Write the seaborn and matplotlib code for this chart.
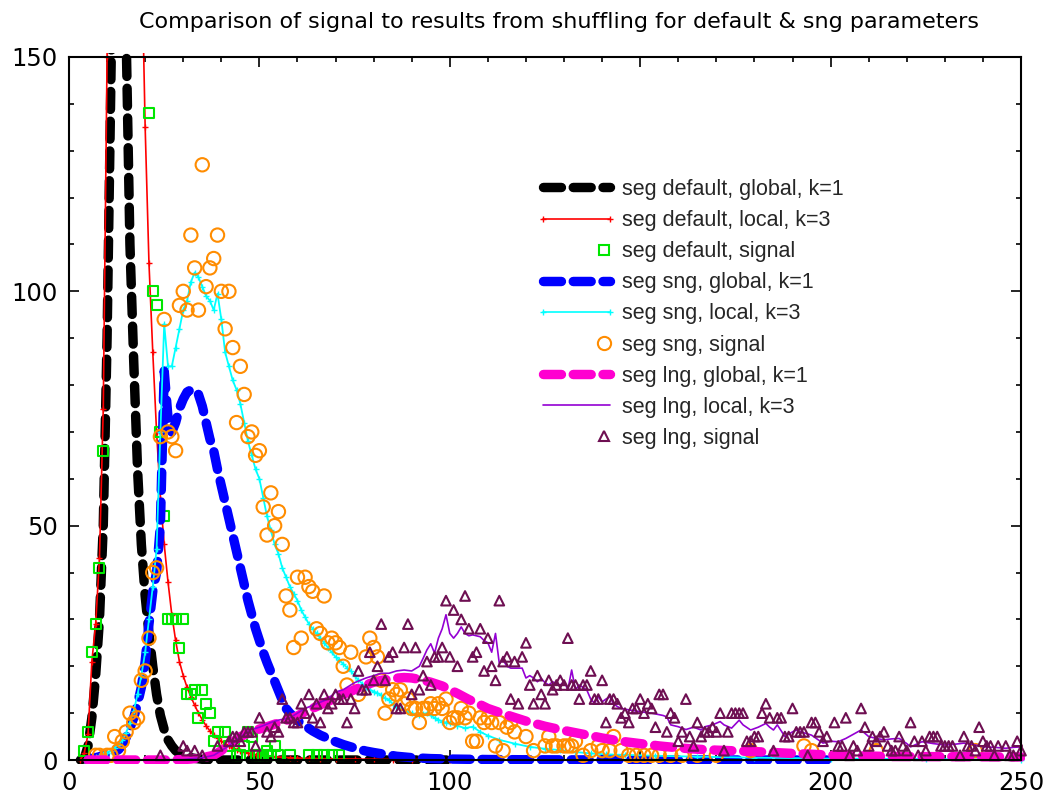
import matplotlib
matplotlib.use("Agg")
import matplotlib.pyplot as plt
import seaborn as sns
from matplotlib.lines import Line2D
from matplotlib.patches import Rectangle
from matplotlib.ticker import MultipleLocator
from matplotlib.legend_handler import HandlerBase, HandlerLine2D

# ---------------------------------------------------------------- data
title = "Comparison of signal to results from shuffling for default & sng parameters"

labels = [
    "seg default, global, k=1",
    "seg default, local, k=3",
    "seg default, signal",
    "seg sng, global, k=1",
    "seg sng, local, k=3",
    "seg sng, signal",
    "seg lng, global, k=1",
    "seg lng, local, k=3",
    "seg lng, signal",
]

default_global = [(3, 0), (4, 0.3), (5, 3), (6, 9), (7, 18), (8, 30), (9, 50), (10, 90),
                  (11, 145), (12, 200), (13, 230), (14, 210), (15, 155), (16, 110), (17, 85),
                  (18, 62), (19, 46), (20, 35), (21, 27), (22, 20), (23, 14), (24, 9.5),
                  (25, 6.5), (26, 4.3), (27, 3), (28, 2), (29, 1.4), (30, 1), (31, 0.7),
                  (32, 0.5), (33, 0.35), (34, 0.25), (35, 0.15), (36, 0.1), (37, 0.05),
                  (38, 0.02), (40, 0), (50, 0), (60, 0), (70, 0), (80, 0), (90, 0), (100, 0)]

default_local = [(3, 0), (4, 1.5), (5, 5.5), (6, 21), (7, 29), (8, 43), (9, 75), (10, 150),
                 (11, 220), (12, 270), (13, 300), (14, 305), (15, 300), (16, 280), (17, 250),
                 (18, 215), (19, 175), (20, 135), (21, 106), (22, 87), (23, 70), (24, 56),
                 (25, 46), (26, 38), (27, 31), (28, 25.5), (29, 21), (30, 18), (31, 15.5),
                 (32, 13.5), (33, 11.7), (34, 10), (35, 8.6), (36, 7.3), (37, 6.2), (38, 5.3),
                 (39, 4.6), (40, 4), (41, 3.5), (42, 3), (43, 2.6), (44, 2.2), (45, 1.9),
                 (46, 1.7), (47, 1.5), (48, 1.3), (49, 1.15), (50, 1), (52, 0.8), (54, 0.7),
                 (56, 0.6), (58, 0.5), (60, 0.4), (63, 0.35), (66, 0.3), (70, 0.25), (75, 0.2),
                 (80, 0.15), (85, 0.1), (90, 0.1), (100, 0.05)]

default_signal = [(4, 2), (5, 6), (6, 23), (7, 29), (8, 41), (9, 66), (21, 138), (22, 100),
                  (23, 97), (24, 70), (25, 52), (26, 30), (27, 30), (28, 30), (29, 24), (30, 30),
                  (31, 14), (32, 14), (33, 15), (34, 9), (35, 15), (36, 12), (37, 10), (38, 4),
                  (39, 6), (41, 6), (42, 3), (44, 1), (45, 1), (46, 3), (47, 6), (48, 5), (49, 1),
                  (50, 1), (51, 1), (52, 2), (53, 1), (54, 3), (55, 1), (58, 1), (63, 1), (65, 1),
                  (67, 1), (69, 1), (71, 1)]

sng_global = [(5, 0), (6, 0.3), (7, 0.5), (8, 0.7), (9, 1), (10, 1.2), (11, 1.5), (12, 1.8),
              (13, 2.2), (14, 3.2), (15, 4.8), (16, 6.8), (17, 9), (18, 12), (19, 15.5),
              (20, 21), (21, 29), (22, 36), (23, 40), (24, 50), (25, 83), (26, 73), (27, 70),
              (28, 72), (29, 75), (30, 77), (31, 78.5), (32, 79), (33, 79), (34, 78), (35, 75.5),
              (36, 72), (37, 68.5), (38, 66), (39, 62), (40, 58.5), (41, 55), (42, 51.5),
              (43, 48), (44, 44.5), (45, 41), (46, 37.5), (47, 34), (48, 31), (49, 28),
              (50, 25.5), (51, 23), (52, 20.8), (53, 18.8), (54, 16.8), (55, 14.8), (56, 12.8),
              (57, 11), (58, 10), (59, 9.2), (60, 8.4), (62, 7.3), (64, 6.2), (66, 5.3),
              (68, 4.6), (70, 3.9), (72, 3.3), (74, 2.8), (76, 2.3), (78, 1.9), (80, 1.6),
              (83, 1.2), (86, 0.8), (90, 0.5), (95, 0.3), (100, 0.2), (110, 0.1), (120, 0.05),
              (130, 0.03), (140, 0.02), (150, 0.01), (160, 0), (170, 0), (180, 0), (190, 0),
              (199, 0)]

sng_local = [(5, 0), (6, 0.3), (7, 0.6), (8, 0.9), (9, 1.2), (10, 1.6), (11, 2), (12, 2.6),
             (13, 3.3), (14, 4.2), (15, 5.8), (16, 8), (17, 10.5), (18, 14), (19, 18), (20, 23),
             (21, 30), (22, 37), (23, 45), (24, 70), (25, 93), (26, 84), (27, 84), (28, 88),
             (29, 92), (30, 96), (31, 98), (32, 102), (33, 104), (34, 103), (35, 101), (36, 99),
             (37, 98), (38, 96), (39, 99.5), (40, 94), (41, 87), (42, 84), (43, 81), (44, 79),
             (45, 76), (46, 72), (47, 68), (48, 65), (49, 62), (50, 60), (51, 56), (52, 52),
             (53, 49), (54, 46), (55, 44), (56, 41), (57, 39), (58, 37), (59, 35.5), (60, 34),
             (61, 32), (62, 30.5), (63, 29), (64, 28), (65, 27), (66, 26), (67, 25), (68, 24),
             (69, 23), (70, 22), (71, 21.3), (72, 20.5), (73, 19.7), (74, 19), (75, 18),
             (76, 17), (77, 16.3), (78, 15.5), (79, 15), (80, 14.6), (81, 14.3), (82, 13.8),
             (83, 13.2), (84, 12.8), (85, 12), (86, 11.4), (87, 11), (88, 10.6), (89, 10.3),
             (90, 10), (91, 9.8), (92, 9.6), (93, 9.8), (94, 10), (95, 9.5), (96, 9), (97, 8.6),
             (98, 8.2), (99, 8), (100, 7.8), (102, 7.3), (104, 6.8), (106, 7.1), (108, 6),
             (110, 5.2), (113, 4.3), (117, 3.5), (121, 2.8), (125, 2.4), (129, 2.1), (133, 1.7),
             (137, 1.4), (141, 1.2), (146, 1.1), (154, 0.9), (165, 0.7), (180, 0.5), (200, 0.3),
             (225, 0.2), (250, 0.1)]

sng_signal = [(7, 1), (8, 1), (10, 1), (11, 1), (12, 5), (13, 2), (14, 4), (15, 6), (16, 10),
              (17, 8), (18, 9), (19, 17), (20, 19), (21, 26), (22, 40), (23, 41), (24, 69),
              (25, 94), (26, 70), (27, 69), (28, 66), (29, 97), (30, 100), (31, 96), (32, 112),
              (33, 105), (34, 96), (35, 127), (36, 101), (37, 105), (38, 107), (39, 112),
              (40, 100), (41, 92), (42, 100), (43, 88), (44, 72), (45, 84), (46, 78), (47, 69),
              (48, 70), (49, 65), (50, 66), (51, 54), (52, 48), (53, 57), (54, 50), (55, 53),
              (56, 46), (57, 35), (58, 32), (59, 24), (60, 39), (61, 26), (62, 39), (63, 37),
              (64, 36), (65, 28), (66, 27), (67, 35), (68, 25), (69, 26), (70, 25), (71, 24),
              (72, 20), (73, 16), (74, 23), (76, 14), (78, 22), (79, 26), (80, 24), (81, 22),
              (82, 17), (83, 10), (84, 13), (85, 15), (86, 14), (87, 15), (88, 12), (89, 13),
              (90, 11), (91, 11), (92, 8), (93, 11), (94, 11), (95, 12), (96, 11), (97, 12),
              (98, 11), (99, 13), (100, 8), (101, 9), (102, 9), (103, 11), (104, 9), (105, 10),
              (106, 4), (107, 4), (108, 9), (109, 8), (110, 9), (111, 8), (112, 3), (113, 8),
              (114, 2), (115, 7), (116, 8), (117, 6), (120, 5), (122, 2), (125, 3), (126, 5),
              (127, 3), (128, 3), (130, 3), (131, 3), (132, 3), (133, 4), (135, 1), (137, 2),
              (139, 3), (140, 2), (142, 2), (143, 5), (145, 2), (147, 1), (149, 1), (151, 1),
              (153, 1), (155, 1), (158, 1), (161, 1), (165, 1), (170, 1), (179, 2), (193, 3),
              (195, 2), (212, 2), (238, 2)]

lng_global = [(5, 0), (10, 0), (15, 0), (20, 0), (25, 0), (30, 0.1), (32, 0.2), (35, 0.5),
              (38, 1), (40, 2), (42, 3.3), (45, 5), (48, 6), (50, 6.6), (52, 7.1), (55, 7.9),
              (58, 8.7), (60, 9.4), (62, 10.3), (65, 11.4), (68, 12.5), (70, 13.2), (72, 14),
              (75, 15), (78, 16), (80, 16.6), (82, 17), (85, 17.4), (88, 17.6), (90, 17.5),
              (92, 17.2), (95, 16.6), (98, 15.8), (100, 15), (102, 14.2), (105, 12.9),
              (108, 11.8), (110, 11), (115, 9.6), (120, 8.3), (125, 7.2), (130, 6.3), (135, 5.5),
              (140, 4.7), (145, 4), (150, 3.5), (155, 3), (160, 2.6), (165, 2.3), (170, 2.1),
              (180, 1.8), (190, 1.4), (200, 1.05), (215, 0.75), (235, 0.7), (250, 0.65)]

lng_local = [(5, 0), (10, 0), (20, 0), (30, 0.1), (35, 0.5), (38, 1), (40, 2), (42, 3), (45, 5),
             (48, 6.5), (50, 7), (53, 8), (55, 8.5), (58, 9), (60, 10), (62, 11), (65, 12),
             (68, 13), (70, 14.5), (72, 15), (75, 16.5), (78, 17.5), (80, 18), (82, 18.5),
             (84, 18.5), (86, 19), (88, 19.2), (90, 19), (91, 19.5), (92, 20), (93, 21.7),
             (94, 23.5), (95, 24.8), (96, 22.8), (97, 26), (98, 28), (99, 31), (100, 27),
             (101, 26), (102, 27), (103, 28.4), (104, 27), (105, 26.5), (106, 26.7), (107, 26.5),
             (108, 26.3), (109, 25.5), (110, 25), (111, 23), (112, 27), (113, 20.6), (114, 21.3),
             (115, 20), (116, 19.6), (117, 19.6), (118, 19.6), (119, 19.6), (120, 17.5),
             (121, 18), (122, 17.5), (123, 16.7), (124, 17.4), (125, 16.5), (126, 16),
             (127, 16.7), (128, 16.2), (129, 16), (130, 16.7), (131, 15), (132, 19.2), (133, 15),
             (134, 16), (135, 15.5), (136, 14.9), (137, 13), (138, 12.1), (139, 13.5),
             (140, 12.4), (141, 13), (142, 13.5), (143, 12), (144, 11.4), (145, 11), (147, 10.7),
             (150, 10.3), (153, 10), (156, 9.5), (157, 9.2), (158, 7.5), (160, 7.1), (162, 6.5),
             (164, 7), (166, 6.4), (167, 7.1), (169, 7.5), (171, 8.2), (172, 7.5), (174, 6.8),
             (176, 8.5), (177, 7.5), (179, 6.4), (181, 7), (183, 7.8), (184, 7), (185, 6.4),
             (186, 7.5), (188, 5), (190, 6), (191, 6.4), (193, 5.8), (195, 5.3), (198, 3.6),
             (200, 4), (202, 3.9), (204, 4.6), (206, 5.5), (208, 6.4), (210, 5), (212, 4.6),
             (214, 4.3), (216, 4.5), (218, 4.6), (220, 3.5), (221, 2.8), (224, 3.9), (227, 3.5),
             (230, 3.2), (233, 3.4), (235, 3.6), (238, 3.2), (240, 2.8), (243, 2.7), (246, 2.5),
             (248, 2.7), (250, 2.8)]

lng_signal = [(24, 1), (30, 3), (31, 2), (33, 2), (35, 1), (39, 3), (42, 4), (43, 5), (44, 5),
              (45, 4), (46, 6), (47, 6), (48, 6), (49, 3), (50, 9), (52, 6), (53, 5), (54, 7),
              (55, 6), (56, 13), (57, 9), (58, 9), (59, 8), (60, 8), (61, 12), (62, 10), (63, 14),
              (64, 9), (65, 12), (66, 8), (67, 14), (68, 11), (69, 12), (70, 14), (71, 13),
              (72, 13), (73, 8), (74, 13), (75, 11), (76, 19), (77, 15), (78, 15), (79, 23),
              (80, 17), (81, 20), (82, 29), (83, 17), (84, 22), (85, 23), (86, 11), (87, 11),
              (88, 24), (89, 29), (90, 14), (91, 24), (92, 15), (93, 18), (94, 21), (95, 16),
              (96, 22), (97, 22), (98, 24), (99, 34), (100, 22), (101, 32), (102, 20), (103, 30),
              (104, 35), (105, 28), (106, 22), (107, 23), (108, 28), (109, 19), (110, 26),
              (111, 20), (112, 17), (113, 34), (114, 21), (115, 22), (116, 13), (117, 21),
              (118, 12), (119, 22), (120, 25), (121, 16), (122, 12), (123, 18), (124, 14),
              (125, 12), (126, 17), (127, 15), (128, 16), (129, 17), (130, 16), (131, 26),
              (132, 16), (133, 16), (134, 13), (135, 16), (136, 16), (137, 19), (138, 13),
              (139, 13), (140, 17), (141, 8), (142, 13), (143, 13), (144, 12), (145, 9),
              (146, 10), (147, 8), (148, 11), (149, 11), (150, 13), (151, 10), (152, 12),
              (153, 11), (154, 7), (155, 14), (156, 14), (157, 6), (158, 10), (159, 9), (160, 4),
              (161, 6), (162, 13), (163, 5), (164, 3), (165, 8), (166, 5), (167, 6), (168, 6),
              (169, 7), (170, 6), (171, 10), (172, 2), (173, 6), (174, 10), (175, 10), (176, 10),
              (177, 10), (178, 4), (179, 4), (180, 5), (181, 5), (182, 10), (183, 12), (184, 9),
              (185, 2), (186, 9), (187, 9), (188, 5), (189, 5), (190, 11), (191, 6), (192, 6),
              (193, 6), (194, 1), (195, 8), (196, 8), (197, 6), (198, 4), (199, 5), (201, 8),
              (202, 3), (203, 3), (204, 9), (205, 1), (206, 3), (207, 2), (208, 11), (209, 7),
              (210, 3), (211, 5), (212, 4), (213, 5), (214, 6), (215, 3), (216, 2), (217, 2),
              (218, 5), (219, 3), (220, 2), (221, 8), (222, 4), (223, 1), (224, 4), (225, 2),
              (226, 5), (227, 5), (228, 5), (229, 3), (230, 3), (231, 3), (232, 3), (234, 1),
              (235, 5), (236, 3), (237, 3), (238, 2), (239, 7), (240, 4), (241, 3), (242, 3),
              (243, 1), (244, 3), (246, 3), (247, 1), (248, 1), (249, 4), (250, 2)]

# ---------------------------------------------------------------- style
sns.set_theme(style="white")
plt.rcParams["font.family"] = ["Liberation Sans", "DejaVu Sans"]

C_BLACK = "#000000"
C_RED = "#ff0000"
C_GREEN = "#00e600"
C_BLUE = "#0000ff"
C_CYAN = "#00ffff"
C_ORANGE = "#ff8c00"
C_PINK = "#ff00d0"
C_VIOLET = "#9400d3"
C_MAROON = "#6e0f52"

THICK = 6.8
DASH = [1.9, 1.25]
FS_KEY = 15.5
FS_TICK = 17.5
FS_TITLE = 16

W, H = 1044, 794
fig = plt.figure(figsize=(W / 100, H / 100), dpi=100)
ax = fig.add_axes([69 / W, 1 - 760 / H, (1021 - 69) / W, (760 - 57) / H])

# lines may spread their stroke a few pixels past the frame, like the plot terminal does
clip = Rectangle((-4 / 952, -4 / 703), 1 + 8 / 952, 1 + 8 / 703, transform=ax.transAxes)


def curve(pts, color, lw, z, dashed=False, marker=None):
    xs, ys = zip(*pts)
    kws = {}
    if marker:
        kws = dict(marker=marker, markersize=4, markeredgewidth=1.0, markeredgecolor=color)
    sns.lineplot(x=list(xs), y=list(ys), ax=ax, color=color, linewidth=lw,
                 estimator=None, sort=False, legend=False, **kws)
    ln = ax.lines[-1]
    ln.set_zorder(z)
    ln.set_clip_path(clip)
    if dashed:
        ln.set_dashes(DASH)
        ln.set_dash_capstyle("round")
        ln.set_solid_capstyle("round")
    return ln


def points(pts, color, marker, size, z):
    xs, ys = zip(*pts)
    sns.scatterplot(x=list(xs), y=list(ys), ax=ax, marker=marker, s=size, color=color,
                    facecolor="none", edgecolor=color, linewidth=1.5, legend=False,
                    clip_on=False, zorder=z)


curve(default_global, C_BLACK, THICK, 2.00, dashed=True)
curve(default_local, C_RED, 1.2, 2.01, marker="+")
points(default_signal, C_GREEN, "s", 52, 2.02)
curve(sng_global, C_BLUE, THICK, 2.03, dashed=True)
curve(sng_local, C_CYAN, 1.3, 2.04, marker="+")
points(sng_signal, C_ORANGE, "o", 92, 2.05)
curve(lng_global, C_PINK, THICK, 2.06, dashed=True)
curve(lng_local, C_VIOLET, 1.2, 2.07)
points(lng_signal, C_MAROON, "^", 48, 2.08)

# ---------------------------------------------------------------- axes
ax.set_xlim(0, 250)
ax.set_ylim(0, 150)
ax.set_xlabel("")
ax.set_ylabel("")
ax.xaxis.set_major_locator(MultipleLocator(50))
ax.xaxis.set_minor_locator(MultipleLocator(10))
ax.yaxis.set_major_locator(MultipleLocator(50))
ax.yaxis.set_minor_locator(MultipleLocator(10))
ax.tick_params(which="both", direction="in", bottom=True, left=True, top=True, right=True,
               color="black", width=1.2)
ax.tick_params(which="major", length=7, labelsize=FS_TICK, pad=8, labelcolor="black")
ax.tick_params(which="minor", length=3.5)
for lab in ax.get_xticklabels() + ax.get_yticklabels():
    lab.set_family(["DejaVu Sans"])
for sp in ax.spines.values():
    sp.set_color("black")
    sp.set_linewidth(1.5)
ax.grid(False)

fig.text(0.535, 1 - 22 / H, title, ha="center", va="center", fontsize=FS_TITLE,
         color="black", family=["DejaVu Sans"])


# ---------------------------------------------------------------- key
class EndMarker(HandlerBase):
    """Draw a lone marker at the right end of the key sample."""

    def create_artists(self, legend, orig_handle, xdescent, ydescent, width, height,
                       fontsize, trans):
        x = -xdescent + width - 0.25 * fontsize
        y = (height - ydescent) / 2
        m = Line2D([x], [y], linestyle="none", marker=orig_handle.get_marker(),
                   markersize=orig_handle.get_markersize(),
                   markeredgecolor=orig_handle.get_markeredgecolor(),
                   markerfacecolor="none",
                   markeredgewidth=orig_handle.get_markeredgewidth())
        m.set_transform(trans)
        return [m]


def thick_key(color):
    return Line2D([], [], color=color, lw=THICK, dashes=DASH, dash_capstyle="round",
                  solid_capstyle="round")


def thin_key(color, marker=None):
    return Line2D([], [], color=color, lw=1.2, marker=marker, markersize=4,
                  markeredgewidth=1.0)


def dot_key(color, marker, ms):
    return Line2D([], [], linestyle="none", marker=marker, markersize=ms,
                  markeredgecolor=color, markerfacecolor="none", markeredgewidth=1.5)


k_black = thick_key(C_BLACK)
k_red = thin_key(C_RED, "+")
k_green = dot_key(C_GREEN, "s", 7.2)
k_blue = thick_key(C_BLUE)
k_cyan = thin_key(C_CYAN, "+")
k_orange = dot_key(C_ORANGE, "o", 9.5)
k_pink = thick_key(C_PINK)
k_violet = thin_key(C_VIOLET)
k_maroon = dot_key(C_MAROON, "^", 7.0)

handles = [k_black, k_red, k_green, k_blue, k_cyan, k_orange, k_pink, k_violet, k_maroon]
ends = HandlerLine2D(numpoints=2, marker_pad=0)
hmap = {k_red: ends, k_cyan: ends, k_violet: ends,
        k_green: EndMarker(), k_orange: EndMarker(), k_maroon: EndMarker()}

ax.legend(handles, labels, loc="upper left", bbox_to_anchor=(543 / W, 1 - 179 / H),
          bbox_transform=fig.transFigure, frameon=False, fontsize=FS_KEY, numpoints=1,
          handlelength=3.1, handletextpad=0.55, labelspacing=0.47, borderpad=0,
          borderaxespad=0, handler_map=hmap)

fig.savefig("out.png", dpi=100)
